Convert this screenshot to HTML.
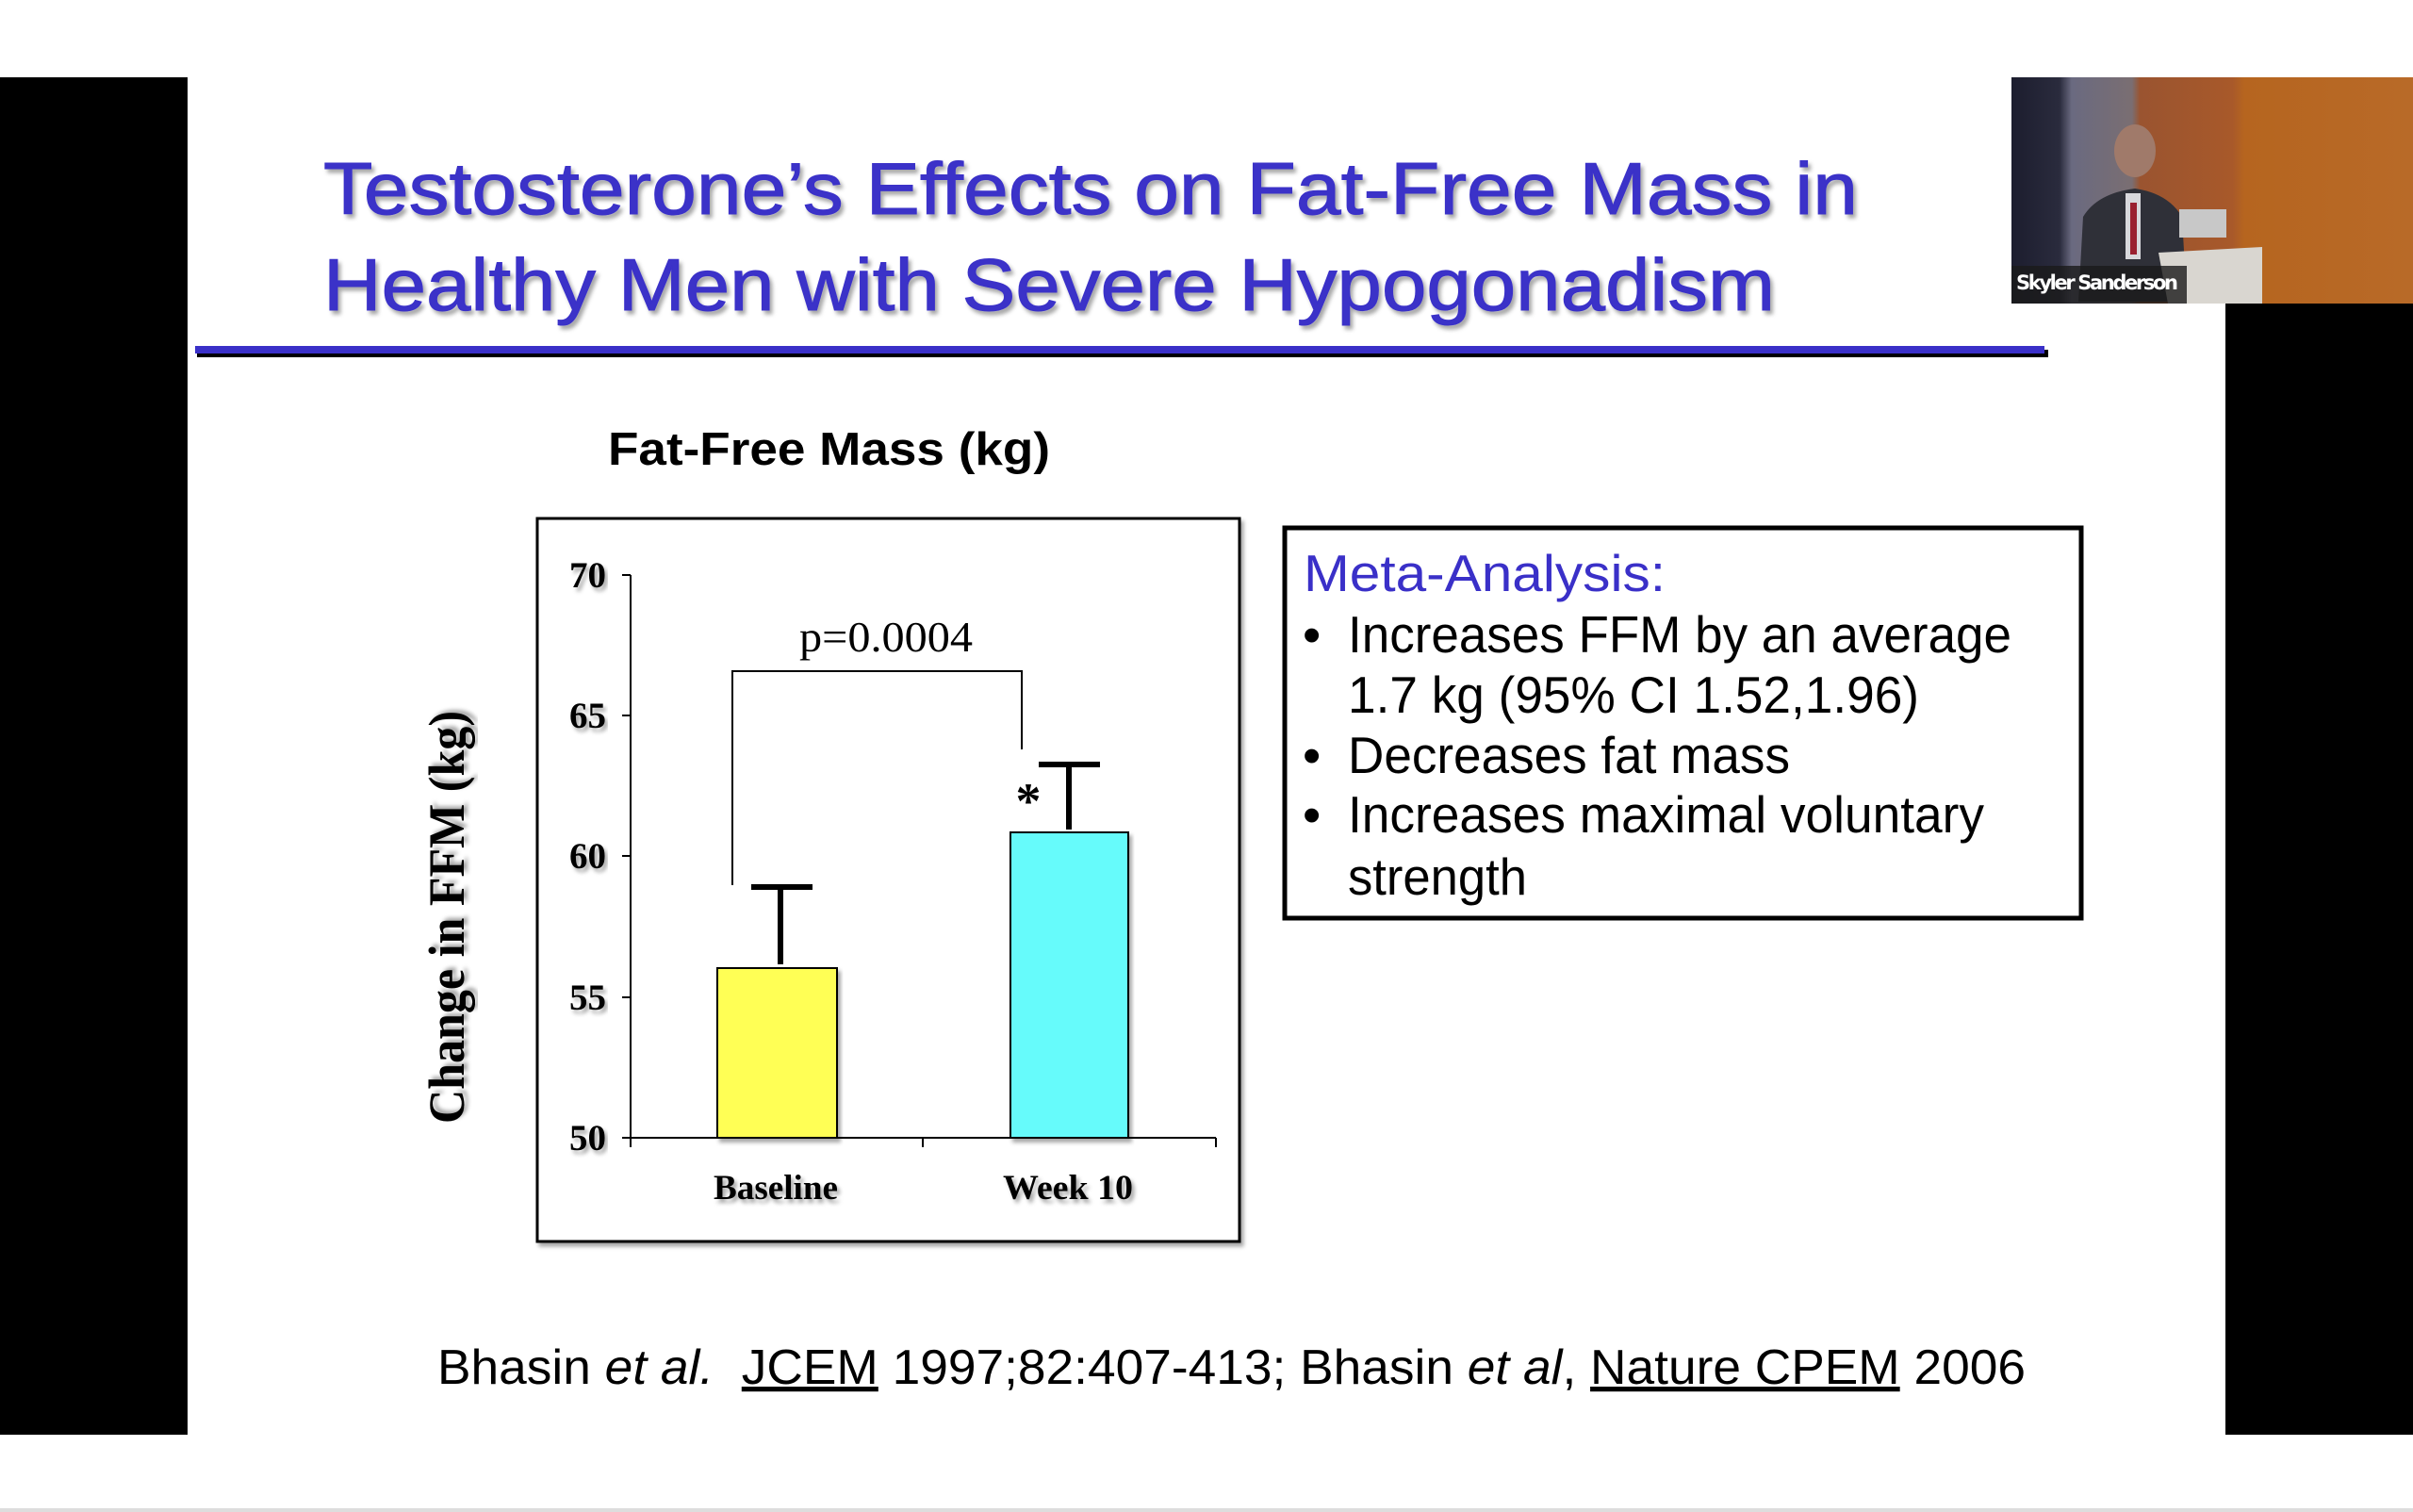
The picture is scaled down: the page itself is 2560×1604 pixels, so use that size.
<!DOCTYPE html>
<html><head><meta charset="utf-8"><style>
html,body{margin:0;padding:0;background:#fff;}
svg{display:block;}
</style></head><body>
<svg width="2560" height="1604" viewBox="0 0 2560 1604" xmlns="http://www.w3.org/2000/svg">
<defs>
<linearGradient id="wood" x1="0" x2="1" y1="0" y2="0">
<stop offset="0" stop-color="#1c1d2e"/><stop offset="0.12" stop-color="#2a2b3d"/><stop offset="0.15" stop-color="#6a6a80"/><stop offset="0.3" stop-color="#7a6e72"/><stop offset="0.32" stop-color="#9a5430"/><stop offset="0.55" stop-color="#a8592a"/><stop offset="0.58" stop-color="#b6651f"/><stop offset="1" stop-color="#b86a28"/>
</linearGradient>
<filter id="sh" x="-5%" y="-5%" width="110%" height="110%"><feDropShadow dx="3" dy="4" stdDeviation="2" flood-color="#000" flood-opacity="0.35"/></filter>
</defs>
<rect x="0" y="0" width="2560" height="1604" fill="#fff"/>
<rect x="0" y="82" width="2560" height="1440" fill="#000"/>
<rect x="199" y="82" width="2162" height="1440" fill="#fff"/>
<rect x="0" y="1600" width="2560" height="4" fill="#ddd"/>
<!-- thumbnail -->
<rect x="2134" y="82" width="426" height="240" fill="url(#wood)"/>
<ellipse cx="2265" cy="160" rx="22" ry="28" fill="#a07a6a"/>
<path d="M2205 320 L2210 230 Q2225 205 2265 200 Q2300 205 2315 230 L2320 320 Z" fill="#2f3038"/>
<rect x="2255" y="205" width="16" height="70" fill="#d8d8dc"/>
<rect x="2260" y="215" width="7" height="55" fill="#9a2030"/>
<path d="M2290 268 L2400 262 L2400 322 L2300 322 Z" fill="#d9d6d0"/>
<rect x="2312" y="222" width="50" height="30" fill="#c8c8c8"/>
<rect x="2134" y="282" width="186" height="40" fill="#1a1a1a" opacity="0.8"/>
<text x="2139" y="307" font-family="DejaVu Sans, sans-serif" font-size="21" font-weight="bold" fill="#fff" textLength="172">Skyler Sanderson</text>
<!-- title -->
<g font-family="Liberation Sans, sans-serif" fill="#3a30c8" font-size="78" filter="url(#sh)" stroke="#3a30c8" stroke-width="1">
<text x="343" y="227" textLength="1628" lengthAdjust="spacingAndGlyphs">Testosterone’s Effects on Fat-Free Mass in</text>
<text x="343" y="329" textLength="1540" lengthAdjust="spacingAndGlyphs">Healthy Men with Severe Hypogonadism</text>
</g>
<rect x="209" y="371" width="1964" height="8" fill="#000"/>
<rect x="207" y="367" width="1962" height="8" fill="#3a30c8"/>
<!-- chart -->
<text x="645" y="493" font-family="Liberation Sans, sans-serif" font-weight="bold" font-size="49" textLength="469" lengthAdjust="spacingAndGlyphs">Fat-Free Mass (kg)</text>
<rect x="570" y="550" width="745" height="767" fill="#fff" stroke="#000" stroke-width="3" filter="url(#sh)"/>
<text transform="translate(492,973) rotate(-90)" text-anchor="middle" font-family="Liberation Serif, serif" font-weight="bold" font-size="54" textLength="438" lengthAdjust="spacingAndGlyphs" filter="url(#sh)">Change in FFM (kg)</text>
<g stroke="#000" stroke-width="2" fill="none">
<line x1="669" y1="610" x2="669" y2="1217"/>
<line x1="669" y1="1207" x2="1290" y2="1207"/>
<line x1="979" y1="1207" x2="979" y2="1217"/>
<line x1="1290" y1="1207" x2="1290" y2="1217"/>
<line x1="660" y1="610" x2="669" y2="610"/>
<line x1="660" y1="759" x2="669" y2="759"/>
<line x1="660" y1="908" x2="669" y2="908"/>
<line x1="660" y1="1058" x2="669" y2="1058"/>
<line x1="660" y1="1207" x2="669" y2="1207"/>
<polyline points="777,939 777,712 1084,712 1084,795"/>
</g>
<g font-family="Liberation Serif, serif" font-weight="bold" font-size="39" text-anchor="end" filter="url(#sh)">
<text x="643" y="623">70</text><text x="643" y="772">65</text><text x="643" y="921">60</text><text x="643" y="1071">55</text><text x="643" y="1220">50</text>
</g>
<rect x="761" y="1027" width="127" height="180" fill="#ffff55" stroke="#000" stroke-width="2" filter="url(#sh)"/>
<rect x="1072" y="883" width="125" height="324" fill="#66fbfb" stroke="#000" stroke-width="2" filter="url(#sh)"/>
<g stroke="#000" stroke-width="6">
<line x1="828" y1="1023" x2="828" y2="941"/><line x1="797" y1="941" x2="862" y2="941"/>
<line x1="1134" y1="880" x2="1134" y2="811"/><line x1="1102" y1="811" x2="1167" y2="811"/>
</g>
<text x="1091" y="868" text-anchor="middle" font-family="Liberation Serif, serif" font-weight="bold" font-size="54">*</text>
<text x="940" y="691" text-anchor="middle" font-family="Liberation Serif, serif" font-size="46" textLength="184" lengthAdjust="spacingAndGlyphs">p=0.0004</text>
<g font-family="Liberation Serif, serif" font-weight="bold" font-size="37" text-anchor="middle" filter="url(#sh)">
<text x="823" y="1272" textLength="132" lengthAdjust="spacingAndGlyphs">Baseline</text><text x="1133" y="1272" textLength="138" lengthAdjust="spacingAndGlyphs">Week 10</text>
</g>
<!-- meta box -->
<rect x="1363" y="560" width="845" height="414" fill="#fff" stroke="#000" stroke-width="5"/>
<g font-family="Liberation Sans, sans-serif" font-size="55">
<text x="1383" y="627" fill="#3a30c8" textLength="384" lengthAdjust="spacingAndGlyphs">Meta-Analysis:</text>
<text x="1382" y="692">•</text><text x="1430" y="692" textLength="704" lengthAdjust="spacingAndGlyphs">Increases FFM by an average</text>
<text x="1430" y="756" textLength="606" lengthAdjust="spacingAndGlyphs">1.7 kg (95% CI 1.52,1.96)</text>
<text x="1382" y="820">•</text><text x="1430" y="820" textLength="469" lengthAdjust="spacingAndGlyphs">Decreases fat mass</text>
<text x="1382" y="883">•</text><text x="1430" y="883" textLength="675" lengthAdjust="spacingAndGlyphs">Increases maximal voluntary</text>
<text x="1430" y="949" textLength="190" lengthAdjust="spacingAndGlyphs">strength</text>
</g>
<!-- citation -->
<text x="464" y="1468" font-family="Liberation Sans, sans-serif" font-size="52" textLength="1685" lengthAdjust="spacingAndGlyphs" xml:space="preserve">Bhasin <tspan font-style="italic">et al.</tspan>  <tspan text-decoration="underline">JCEM</tspan> 1997;82:407-413; Bhasin <tspan font-style="italic">et al</tspan>, <tspan text-decoration="underline">Nature CPEM</tspan> 2006</text>
</svg>
</body></html>
